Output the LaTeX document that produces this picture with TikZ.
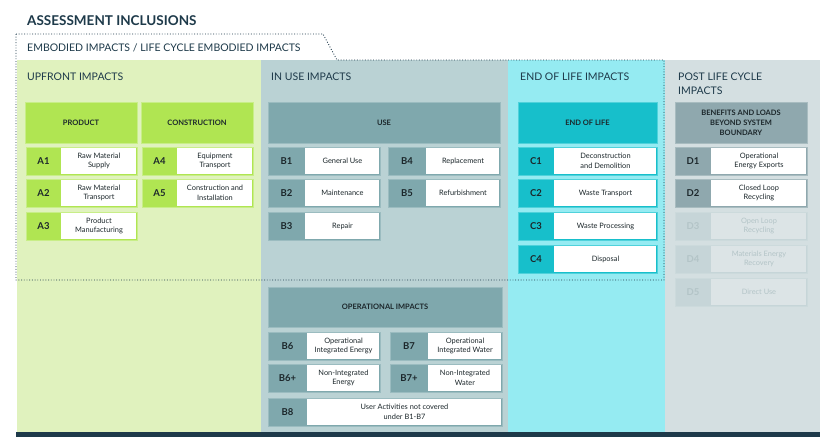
\documentclass[tikz,border=0pt]{standalone}
\usepackage{fontspec}
\setmainfont{Lato}
\definecolor{navy}{HTML}{1E3A4A}
\definecolor{ink}{HTML}{1C272B}
\definecolor{descink}{HTML}{3A3F41}
\definecolor{upbg}{HTML}{E0F2BE}
\definecolor{usebg}{HTML}{BAD2D4}
\definecolor{eolbg}{HTML}{95EBF2}
\definecolor{postbg}{HTML}{D4DFE1}
\definecolor{lime}{HTML}{B0E552}
\definecolor{limeedge}{HTML}{C8EE88}
\definecolor{limew}{HTML}{FFFFFF}
\definecolor{limet}{HTML}{1C272B}
\definecolor{teal}{HTML}{7FA8AD}
\definecolor{tealedge}{HTML}{9BBCC0}
\definecolor{tealw}{HTML}{FFFFFF}
\definecolor{tealt}{HTML}{1C272B}
\definecolor{cyanh}{HTML}{17BFCB}
\definecolor{cyanhedge}{HTML}{4FD2DB}
\definecolor{cyanhw}{HTML}{FFFFFF}
\definecolor{cyanht}{HTML}{1C272B}
\definecolor{greyh}{HTML}{8FA8AE}
\definecolor{greyhedge}{HTML}{A8BCC0}
\definecolor{greyhw}{HTML}{FFFFFF}
\definecolor{greyht}{HTML}{1C272B}
\definecolor{fade}{HTML}{C6D5D8}
\definecolor{fadeedge}{HTML}{CCDADC}
\definecolor{fadew}{HTML}{DCE4E6}
\definecolor{fadet}{HTML}{B3C4C7}
\tikzset{
  coltitle/.style={anchor=base west, inner sep=0, text=navy, font=\fontsize{10.5}{13}\selectfont},
  hdr/.style={rectangle, inner sep=0, outer sep=0, line width=0.8pt, text=ink, align=center,
    font=\fontsize{7.5}{10}\selectfont\bfseries},
  codetxt/.style={inner sep=0, font=\fontsize{9.5}{11}\selectfont\bfseries},
  desctxt/.style={inner sep=0, align=center, font=\fontsize{7.4}{9.6}\selectfont},
}
% #1 name, #2 x1, #3 y1, #4 xc, #5 x2, #6 y2, #7 scheme, #8 code, #9 desc
\newcommand\irow[9]{%
  \path[fill=#7, draw=#7edge, line width=0.8pt] (#2,#3) rectangle (#5,#6);
  \path[fill=#7w] (#4,#3+1.2) rectangle (#5-1.2,#6-1.2);
  \node[codetxt, text=#7t] (#1) at ({(#2+#4)/2},{(#3+#6)/2}) {#8};
  \node[desctxt, text=#7t] (#1d) at ({(#4+#5)/2},{(#3+#6)/2}) {#9};
}
% #1 name, #2 x1, #3 y1, #4 x2, #5 y2, #6 scheme, #7 text
\newcommand\hdrbox[7]{%
  \node[hdr, fill=#6, draw=#6edge, minimum width={#4-#2}, minimum height={#5-#3}]
    (#1) at ({(#2+#4)/2},{(#3+#5)/2}) {#7};
}
\begin{document}
\begin{tikzpicture}[x=1pt,y=-1pt]
\useasboundingbox (0,0) rectangle (827,437);
\fill[white] (0,0) rectangle (827,437);
% columns
\fill[upbg] (17,60) rectangle (261,432);
\fill[usebg] (261,60) rectangle (508,432);
\fill[eolbg] (508,60) rectangle (665,432);
\fill[postbg] (665,60) rectangle (820,432);
\fill[navy] (16,432) rectangle (820,437);
% dotted embodied boundary
\draw[navy, line width=0.9pt, dash pattern=on 0.9pt off 1.8pt]
  (16,34) -- (323,34) -- (337,60) -- (664,60) -- (664,280) -- (16,280) -- cycle;
% titles
\node[anchor=base west, inner sep=0, text=navy, font=\fontsize{13.5}{16}\selectfont\bfseries]
  (title) at (27,25) {ASSESSMENT INCLUSIONS};
\node[coltitle] (emb) at (27,51) {EMBODIED IMPACTS / LIFE CYCLE EMBODIED IMPACTS};
\node[coltitle] (upfront) at (27,80) {UPFRONT IMPACTS};
\node[coltitle] (inuse) at (271,80) {IN USE IMPACTS};
\node[coltitle] (eol) at (520,80) {END OF LIFE IMPACTS};
\node[coltitle] (post) at (678,80) {POST LIFE CYCLE};
\node[coltitle] (post2) at (678,94) {IMPACTS};
% headers
\hdrbox{product}{25}{102}{137}{143}{lime}{PRODUCT}
\hdrbox{construction}{141}{102}{253}{143}{lime}{CONSTRUCTION}
\hdrbox{use}{268}{102}{500}{143}{teal}{USE}
\hdrbox{endoflife}{518}{102}{657}{143}{cyanh}{END OF LIFE}
\hdrbox{benefits}{675}{102}{807}{143}{greyh}{BENEFITS AND LOADS\\BEYOND SYSTEM\\BOUNDARY}
\hdrbox{operational}{268}{287}{502}{327}{teal}{OPERATIONAL IMPACTS}
% upfront rows
\irow{a1}{26}{147}{61}{137}{175}{lime}{A1}{Raw Material\\Supply}
\irow{a2}{26}{179}{61}{137}{207}{lime}{A2}{Raw Material\\Transport}
\irow{a3}{26}{212}{61}{137}{240}{lime}{A3}{Product\\Manufacturing}
\irow{a4}{142}{147}{177}{253}{175}{lime}{A4}{Equipment\\Transport}
\irow{a5}{142}{179}{177}{253}{207}{lime}{A5}{Construction and\\Installation}
% in use rows
\irow{b1}{268}{147}{305}{380}{175}{teal}{B1}{General Use}
\irow{b2}{268}{179}{305}{380}{207}{teal}{B2}{Maintenance}
\irow{b3}{268}{212}{305}{380}{240}{teal}{B3}{Repair}
\irow{b4}{388}{147}{426}{500}{175}{teal}{B4}{Replacement}
\irow{b5}{388}{179}{426}{500}{207}{teal}{B5}{Refurbishment}
% operational rows
\irow{b6}{268}{332}{307}{380}{360}{teal}{B6}{Operational\\Integrated Energy}
\irow{b7}{390}{332}{428}{502}{360}{teal}{B7}{Operational\\Integrated Water}
\irow{b6p}{268}{364}{307}{380}{392}{teal}{B6+}{Non-Integrated\\Energy}
\irow{b7p}{390}{364}{428}{502}{392}{teal}{B7+}{Non-Integrated\\Water}
\irow{b8}{268}{398}{307}{502}{426}{teal}{B8}{User Activities not covered\\under B1-B7}
% end of life rows
\irow{c1}{518}{147}{554}{657}{175}{cyanh}{C1}{Deconstruction\\and Demolition}
\irow{c2}{518}{179}{554}{657}{207}{cyanh}{C2}{Waste Transport}
\irow{c3}{518}{212}{554}{657}{240}{cyanh}{C3}{Waste Processing}
\irow{c4}{518}{245}{554}{657}{273}{cyanh}{C4}{Disposal}
% post life rows
\irow{d1}{675}{147}{711}{807}{175}{greyh}{D1}{Operational\\Energy Exports}
\irow{d2}{675}{179}{711}{807}{207}{greyh}{D2}{Closed Loop\\Recycling}
\irow{d3}{675}{212}{711}{807}{240}{fade}{D3}{Open Loop\\Recycling}
\irow{d4}{675}{245}{711}{807}{273}{fade}{D4}{Materials Energy\\Recovery}
\irow{d5}{675}{278}{711}{807}{306}{fade}{D5}{Direct Use}
\end{tikzpicture}
\end{document}
